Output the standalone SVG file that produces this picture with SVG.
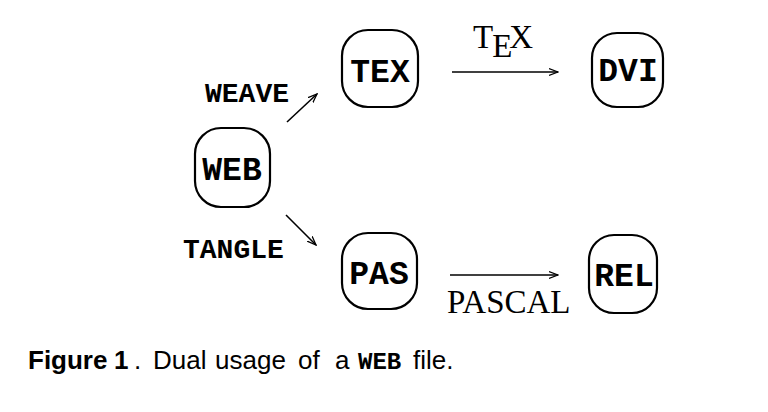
<svg xmlns="http://www.w3.org/2000/svg" width="768" height="412" viewBox="0 0 768 412">
<defs>
<style>
.node{fill:none;stroke:#000;stroke-width:2.2}
.nt{font-family:"Liberation Mono",monospace;font-weight:bold;font-size:33px;text-anchor:middle;fill:#000}
.lab{font-family:"Liberation Mono",monospace;font-weight:bold;font-size:28px;fill:#000}
.ser{font-family:"Liberation Serif",serif;font-size:33px;fill:#000}
.cap{font-family:"Liberation Sans",sans-serif;font-size:26px;fill:#000}
.edge{stroke:#000;stroke-width:1.6;fill:none;marker-end:url(#ah)}
</style>
<marker id="ah" viewBox="0 0 10 10" refX="9" refY="5" markerWidth="10" markerHeight="10" markerUnits="userSpaceOnUse" orient="auto">
<path d="M0,1.5 L9,5 L0,8.5" fill="none" stroke="#000" stroke-width="1.3"/>
</marker>
</defs>
<rect width="768" height="412" fill="#fff"/>
<g id="connectors">
<line class="edge" x1="287" y1="122" x2="317" y2="94"/>
<line class="edge" x1="286" y1="215" x2="316" y2="245"/>
<line class="edge" x1="452" y1="72" x2="558" y2="72"/>
<line class="edge" x1="450" y1="275" x2="558" y2="275"/>
</g>
<g id="label-weave"><text class="lab" x="205" y="102">WEAVE</text></g>
<g id="label-tangle"><text class="lab" x="183" y="258">TANGLE</text></g>
<g id="label-tex"><text class="ser" x="473" y="48">T<tspan dx="-1" dy="9">E</tspan><tspan dx="-3" dy="-9">X</tspan></text></g>
<g id="label-pascal"><text class="ser" x="447" y="313">PASCAL</text></g>
<g id="node-web"><rect class="node" x="195" y="128" width="75" height="79" rx="26"/><text class="nt" x="232" y="180">WEB</text></g>
<g id="node-tex"><rect class="node" x="342" y="30" width="76" height="77" rx="26"/><text class="nt" x="380" y="82">TEX</text></g>
<g id="node-dvi"><rect class="node" x="592" y="33" width="71" height="74" rx="25"/><text class="nt" x="628" y="81">DVI</text></g>
<g id="node-pas"><rect class="node" x="342" y="233" width="75" height="76" rx="26"/><text class="nt" x="379" y="284">PAS</text></g>
<g id="node-rel"><rect class="node" x="589" y="235" width="68" height="78" rx="25"/><text class="nt" x="624" y="286">REL</text></g>
<g id="caption"><text class="cap" y="369"><tspan x="28" font-weight="bold">Figure</tspan><tspan x="114" font-weight="bold">1</tspan><tspan x="134">.</tspan><tspan x="153">Dual</tspan><tspan x="215">usage</tspan><tspan x="298">of</tspan><tspan x="335">a</tspan><tspan x="358" font-family="Liberation Mono, monospace" font-weight="bold" font-size="24">WEB</tspan><tspan x="413">file.</tspan></text></g>
</svg>
